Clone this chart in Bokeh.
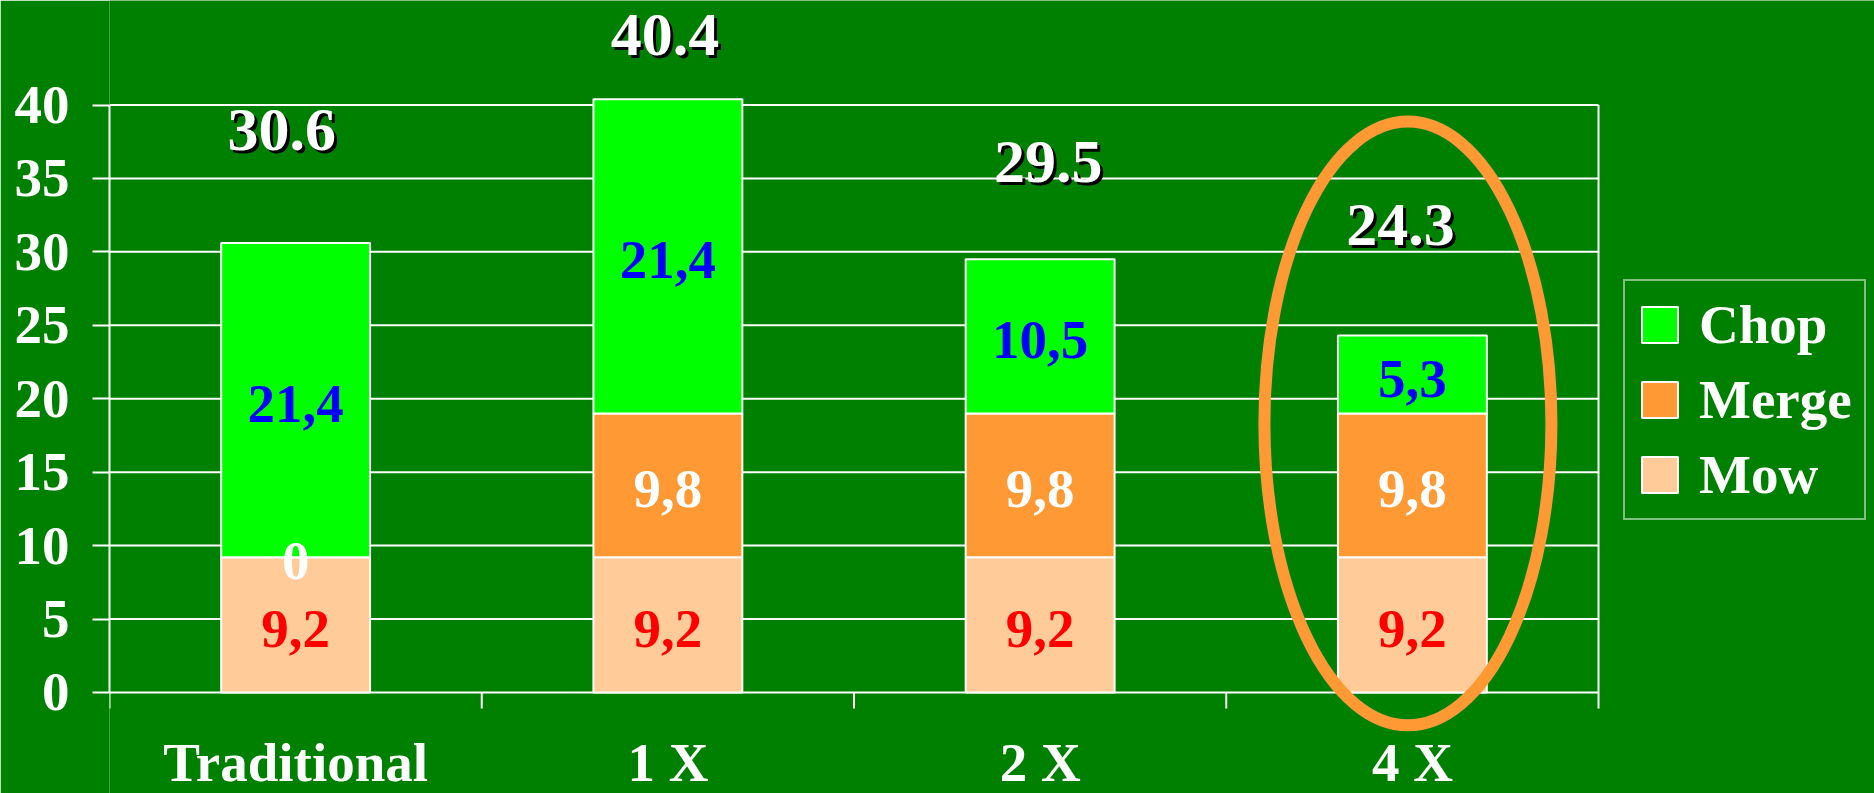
from bokeh.plotting import figure
from bokeh.models import Range1d, FixedTicker, Legend, LegendItem, ColumnDataSource
from bokeh.core.properties import value
from bokeh.embed import file_html
from bokeh.resources import INLINE

# ---------------- data ----------------
categories = ["Traditional", "1 X", "2 X", "4 X"]
series = ["Mow", "Merge", "Chop"]
mow = [9.2, 9.2, 9.2, 9.2]
merge = [0.0, 9.8, 9.8, 9.8]
chop = [21.4, 21.4, 10.5, 5.3]
totals = [30.6, 40.4, 29.5, 24.3]
y_ticks = [0, 5, 10, 15, 20, 25, 30, 35, 40]

# ---------------- styles / layout ----------------
BG = "#008000"
FILL = {"Mow": "#FFCC99", "Merge": "#FF9933", "Chop": "#00FF00"}
LABEL_COLOR = {"Mow": "#FF0000", "Merge": "#FFFFFF", "Chop": "#0000FF"}
FONT = "Liberation Serif"
total_label_y = [38.30, 44.78, 36.12, 31.81]  # centre positions of the total labels
total_label_dx = [-14, -3, 8, -12]            # pixel offsets of the total labels
ELLIPSE_DX, ELLIPSE_Y, ELLIPSE_W, ELLIPSE_H = -0.012, 18.32, 0.771, 41.1
CAT_LABEL_Y = -4.77         # centre of the category labels (data units)
TICK_LEN = 1.09             # length of the category separator ticks (data units)

W, H = 1874, 793
Y_START, Y_END = -6.877, 47.115
X_EXTRA = 0.7414            # room on the right of the plot area for the legend

n = len(categories)
xs = [i + 0.5 for i in range(n)]
data = {"x": xs, "Mow": mow, "Merge": merge, "Chop": chop}
source = ColumnDataSource(data)

p = figure(width=W, height=H,
           x_range=Range1d(0, n + X_EXTRA), y_range=Range1d(Y_START, Y_END),
           x_axis_location=None,
           output_backend="svg", toolbar_location=None,
           min_border_left=109, min_border_right=0,
           min_border_top=0, min_border_bottom=0)
p.background_fill_color = BG
p.border_fill_color = BG
p.outline_line_color = None
p.grid.visible = False

# horizontal grid lines across the plot area
p.segment(x0=[0] * len(y_ticks), y0=y_ticks, x1=[n] * len(y_ticks), y1=y_ticks,
          line_color="white", line_width=2)

# y axis
ya = p.yaxis[0]
ya.ticker = FixedTicker(ticks=y_ticks)
ya.bounds = (y_ticks[0], y_ticks[-1])
ya.axis_line_color = "white"
ya.axis_line_width = 2
ya.major_tick_line_color = "white"
ya.major_tick_line_width = 2
ya.major_tick_out = 17
ya.major_tick_in = 0
ya.minor_tick_line_color = None
ya.major_label_standoff = 23
ya.major_label_text_font = FONT
ya.major_label_text_font_style = "bold"
ya.major_label_text_font_size = "55px"
ya.major_label_text_color = "white"

# category axis: separator ticks and labels
p.segment(x0=list(range(n + 1)), y0=[y_ticks[0]] * (n + 1),
          x1=list(range(n + 1)), y1=[y_ticks[0] - TICK_LEN] * (n + 1),
          line_color="white", line_width=2)
p.text(x=xs, y=[CAT_LABEL_Y] * n, text=categories,
       text_align="center", text_baseline="middle",
       text_font=value(FONT), text_font_style="bold", text_font_size="55px",
       text_color="white")

# right border of the plot area
p.segment(x0=[n], y0=[y_ticks[0]], x1=[n], y1=[y_ticks[-1]], line_color="white", line_width=2)

# stacked bars
renderers = p.vbar_stack(series, x="x", width=0.4, source=source,
                         fill_color=[FILL[s] for s in series],
                         line_color="white", line_width=2)

# segment labels
def fmt(v):
    return f"{v:g}".replace(".", ",")

bottom = [0.0] * n
for s in series:
    vals = data[s]
    mids = [b + v / 2 for b, v in zip(bottom, vals)]
    p.text(x=xs, y=mids, text=[fmt(v) for v in vals],
           text_align="center", text_baseline="middle", y_offset=4,
           text_font=value(FONT), text_font_style="bold", text_font_size="55px",
           text_color=LABEL_COLOR[s])
    bottom = [b + v for b, v in zip(bottom, vals)]

# total labels with shadow
tot_text = [f"{t:.1f}" for t in totals]
p.text(x=xs, y=total_label_y, text=tot_text,
       x_offset=[d + 3 for d in total_label_dx], y_offset=3,
       text_align="center", text_baseline="middle",
       text_font=value(FONT), text_font_style="bold", text_font_size="62px",
       text_color="black")
p.text(x=xs, y=total_label_y, text=tot_text, x_offset=total_label_dx,
       text_align="center", text_baseline="middle",
       text_font=value(FONT), text_font_style="bold", text_font_size="62px",
       text_color="white")

# highlight ellipse around the last category
p.ellipse(x=[xs[-1] + ELLIPSE_DX], y=[ELLIPSE_Y], width=ELLIPSE_W, height=ELLIPSE_H,
          fill_color=None, line_color="#FF9933", line_width=12)

# legend
items = [LegendItem(label=s, renderers=[renderers[series.index(s)]]) for s in reversed(series)]
legend = Legend(items=items, location=(1514, 273))
legend.label_text_font = FONT
legend.label_text_font_style = "bold"
legend.label_text_font_size = "55px"
legend.label_text_color = "white"
legend.background_fill_color = BG
legend.background_fill_alpha = 1
legend.border_line_color = "white"
legend.border_line_width = 2
legend.glyph_width = 45
legend.glyph_height = 45
legend.label_standoff = 17
legend.padding = 12
legend.spacing = 12
legend.margin = 0
p.add_layout(legend, "center")

open("out.html", "w").write(file_html(p, INLINE))
